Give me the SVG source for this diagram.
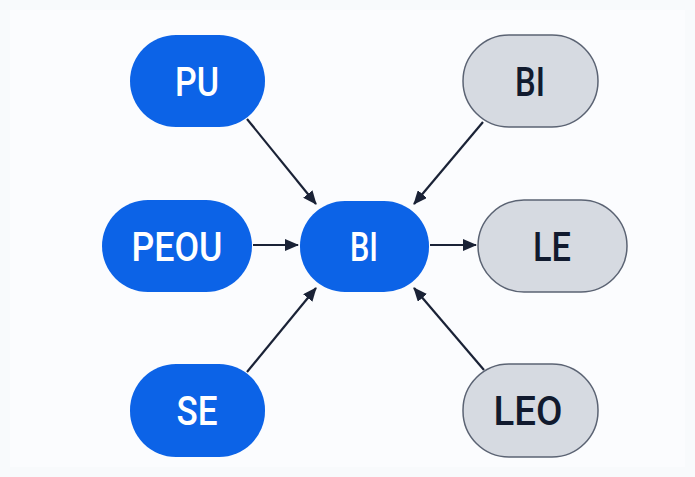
<svg xmlns="http://www.w3.org/2000/svg" width="695" height="477" viewBox="0 0 695 477">
<style>
.blue{fill:#0c63e7}
.gray{fill:#d6dae1;stroke:#5b6373;stroke-width:1.5}
.t{font-family:Roboto,"Liberation Sans",sans-serif;font-size:41px;text-anchor:middle;font-weight:500}
.tw{fill:#ffffff}
.td{fill:#111a2e}
.c{stroke:#1a2236;stroke-width:2.2;fill:none;marker-end:url(#ah)}
</style>
<defs>
<marker id="ah" markerWidth="14" markerHeight="12" refX="13" refY="6" orient="auto" markerUnits="userSpaceOnUse" viewBox="0 0 14 12">
<path d="M0,0 L14,6 L0,12 z" fill="#1a2236"/>
</marker>
</defs>
<rect x="0" y="0" width="695" height="477" fill="#f8fafc"/>
<rect x="10" y="10" width="675" height="457" fill="#fbfcfe"/>
<g id="connectors">
<line class="c" x1="247" y1="119" x2="316" y2="204"/>
<line class="c" x1="483" y1="122" x2="414" y2="204"/>
<line class="c" x1="253" y1="245" x2="298" y2="245"/>
<line class="c" x1="430" y1="245" x2="476" y2="245"/>
<line class="c" x1="247" y1="372" x2="316" y2="288"/>
<line class="c" x1="484" y1="370" x2="414" y2="288"/>
</g>
<g id="PU"><rect class="blue" x="130" y="35" width="135" height="92" rx="46"/><text class="t tw" x="197" y="96" textLength="44" lengthAdjust="spacingAndGlyphs">PU</text></g>
<g id="PEOU"><rect class="blue" x="102" y="200" width="150" height="92" rx="46"/><text class="t tw" x="177" y="261" textLength="91" lengthAdjust="spacingAndGlyphs">PEOU</text></g>
<g id="SE"><rect class="blue" x="130" y="364" width="135" height="93" rx="46"/><text class="t tw" x="197" y="425" textLength="41" lengthAdjust="spacingAndGlyphs">SE</text></g>
<g id="BI_center"><rect class="blue" x="300" y="201" width="129" height="91" rx="45"/><text class="t tw" x="364" y="261" textLength="28" lengthAdjust="spacingAndGlyphs">BI</text></g>
<g id="BI"><rect class="gray" x="463" y="35" width="135" height="92" rx="46"/><text class="t td" x="530" y="96" textLength="30" lengthAdjust="spacingAndGlyphs">BI</text></g>
<g id="LE"><rect class="gray" x="478" y="200" width="149" height="92" rx="46"/><text class="t td" x="552" y="261" textLength="38" lengthAdjust="spacingAndGlyphs">LE</text></g>
<g id="LEO"><rect class="gray" x="463" y="364" width="135" height="93" rx="46"/><text class="t td" x="528" y="425" textLength="69" lengthAdjust="spacingAndGlyphs">LEO</text></g>
</svg>
